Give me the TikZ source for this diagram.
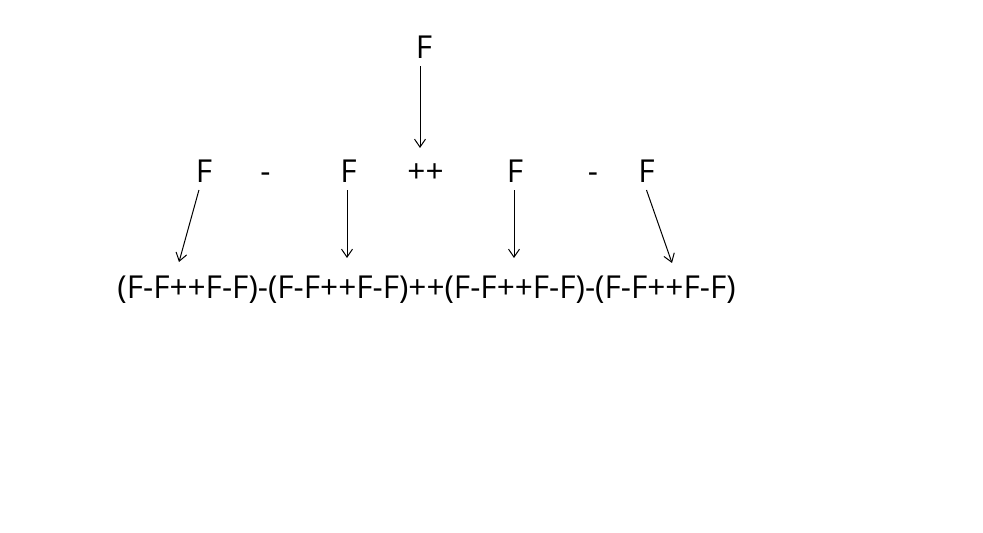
\documentclass[tikz,border=0pt]{standalone}
\usepackage{fontspec}
\setmainfont{Open Sans}
\usepackage{tikz}
\usetikzlibrary{arrows.meta, positioning}

\begin{document}
\begin{tikzpicture}[x=0.5pt, y=-0.5pt, every node/.style={font=\fontsize{15.8}{18}\selectfont, anchor=base}, arr/.style={-{Straight Barb[length=4pt, width=5.5pt]}, line width=0.5pt}]
\useasboundingbox (0,0) rectangle (983,533);
\node (top) at (424,59) {F};
\node (f1) at (204,183) {F};
\node (m1) at (265.5,183) {-};
\node (f2) at (348.5,183) {F};
\node (pp) at (425.5,183) {++};
\node (f3) at (515,183) {F};
\node (m2) at (593,183) {-};
\node (f4) at (646.5,183) {F};
\node (str) at (426.5,299) {(F-F++F-F)-(F-F++F-F)++(F-F++F-F)-(F-F++F-F)};
\coordinate (t0) at (420,148);
\coordinate (t1) at (179,262);
\coordinate (t2) at (347,258);
\coordinate (t3) at (514,258);
\coordinate (t4) at (672,263);
\draw[arr] (top.south -| t0) -- (t0);
\draw[arr] (f1) -- (t1);
\draw[arr] (f2.south -| t2) -- (t2);
\draw[arr] (f3.south -| t3) -- (t3);
\draw[arr] (f4.south) -- (t4);
\end{tikzpicture}
\end{document}
